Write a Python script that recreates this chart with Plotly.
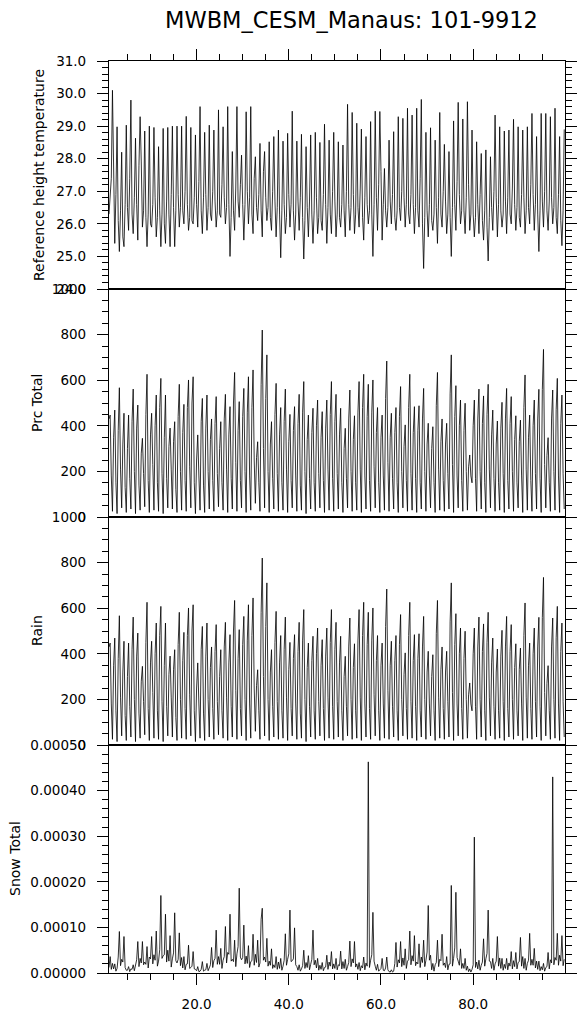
import plotly.graph_objects as go

# ---------------- data (quarterly samples) ----------------
years = list(range(1, 100))
sample_months = [0, 3, 6, 9]

temperature = [
    26.3, 26.9, 27.4, 30.1,   26.8, 25.4, 26.9, 28.98,  26.1, 25.15, 26.4, 28.2,   25.6, 25.3, 26.6, 29.03,
    26.5, 25.8, 27.4, 29.8,   26.3, 25.7, 26.8, 28.63,  26.6, 25.5, 27.8, 29.29,  27.9, 25.9, 26.4, 28.85,
    26.2, 25.3, 26.3, 29.0,   26.0, 25.9, 26.6, 28.96,  26.8, 25.6, 26.2, 28.37,  26.4, 25.3, 26.3, 28.93,
    26.0, 25.4, 26.7, 28.96,  26.3, 25.3, 26.9, 29.0,   26.5, 25.3, 26.4, 29.0,   26.9, 25.9, 26.5, 29.0,
    26.4, 26.0, 27.0, 29.3,   26.6, 25.8, 26.2, 28.96,  26.1, 26.0, 26.8, 28.73,  26.6, 25.9, 27.3, 29.6,
    26.4, 25.7, 26.8, 28.81,  26.9, 25.8, 26.5, 29.03,  26.3, 26.1, 27.0, 28.88,  26.7, 25.9, 26.4, 29.5,
    26.3, 26.2, 27.2, 28.98,  26.8, 26.0, 26.5, 29.6,   26.6, 25.0, 26.2, 28.22,  26.4, 25.8, 27.1, 29.6,
    26.7, 26.2, 27.2, 28.11,  26.6, 25.5, 26.6, 29.44,  27.0, 26.0, 26.8, 29.6,   26.3, 25.7, 27.4, 28.06,
    26.5, 26.1, 26.9, 28.47,  26.4, 25.6, 27.6, 28.22,  26.8, 26.1, 26.5, 28.52,  26.2, 25.8, 27.0, 28.68,
    26.7, 25.6, 26.5, 28.88,  26.3, 24.96, 26.4, 28.54, 26.6, 25.7, 26.2, 28.78,  26.9, 25.9, 26.6, 29.46,
    26.4, 25.5, 26.3, 28.54,  26.7, 25.8, 26.8, 28.75,  26.2, 24.92, 26.1, 28.37, 26.5, 25.6, 26.7, 28.73,
    26.3, 25.4, 26.4, 28.81,  26.8, 25.7, 26.2, 28.5,   26.1, 25.8, 26.9, 29.06,  26.6, 25.4, 26.5, 28.57,
    26.3, 25.7, 27.0, 28.81,  26.7, 25.6, 26.3, 28.52,  26.2, 25.9, 26.6, 28.42,  26.4, 25.6, 27.0, 29.67,
    26.6, 25.8, 26.5, 29.42,  26.9, 25.7, 26.3, 29.09,  26.5, 25.9, 27.1, 28.91,  26.2, 25.5, 26.8, 28.68,
    26.6, 26.0, 26.4, 29.14,  26.3, 25.0, 26.6, 29.46,  26.8, 25.8, 27.2, 29.45,  27.6, 25.5, 26.6, 27.7,
    26.4, 25.9, 26.5, 28.57,  26.7, 26.0, 26.9, 28.83,  26.2, 25.8, 26.4, 29.29,  26.5, 26.1, 27.0, 29.24,
    26.8, 25.9, 26.6, 29.55,  26.3, 26.0, 26.9, 29.34,  26.6, 25.7, 26.5, 29.55,  26.4, 25.9, 27.4, 29.82,
    26.0, 24.63, 26.2, 28.81, 26.4, 25.6, 26.6, 28.95,  26.1, 25.8, 26.3, 28.57,  26.5, 25.4, 26.8, 29.42,
    26.3, 25.9, 27.0, 28.44,  26.7, 25.7, 26.3, 28.22,  26.2, 25.0, 26.5, 29.16,  26.6, 25.8, 27.3, 29.73,
    26.9, 26.0, 26.4, 29.22,  26.4, 25.7, 26.8, 29.75,  27.2, 25.8, 26.3, 28.88,  26.3, 25.6, 26.2, 28.52,
    26.6, 25.7, 26.9, 28.16,  26.1, 25.5, 26.4, 28.27,  25.9, 24.86, 26.2, 28.06, 26.5, 25.8, 27.0, 29.34,
    26.8, 25.6, 26.6, 28.98,  26.4, 25.9, 26.3, 28.85,  26.7, 25.7, 26.8, 28.88,  26.3, 26.0, 27.1, 29.21,
    26.6, 25.8, 26.5, 28.98,  26.2, 25.9, 26.9, 28.88,  26.8, 25.7, 26.4, 28.98,  26.5, 26.0, 27.2, 29.39,
    26.9, 25.8, 26.6, 28.68,  26.3, 25.15, 26.4, 29.39, 26.7, 25.9, 27.0, 29.39,  26.4, 25.8, 26.7, 29.29,
    26.8, 26.0, 26.5, 29.55,  26.2, 25.7, 26.9, 28.68,  26.1, 25.33, 26.4, 28.9,
]

prc_total = [
    430, 447, 180, 25,  350, 469, 150, 15,  380, 567, 210, 40,  320, 455, 130, 20,
    300, 447, 170, 35,  420, 561, 200, 15,  390, 491, 140, 30,  280, 345, 190, 45,
    450, 626, 160, 20,  360, 455, 230, 30,  400, 535, 150, 25,  480, 608, 190, 15,
    350, 535, 170, 40,  310, 390, 210, 35,  330, 418, 120, 20,  440, 582, 200, 30,
    370, 494, 160, 25,  480, 601, 220, 40,  500, 615, 150, 15,  250, 360, 180, 30,
    420, 520, 140, 20,  390, 535, 200, 35,  340, 430, 160, 25,  410, 528, 190, 45,
    300, 418, 150, 30,  430, 538, 210, 20,  360, 484, 170, 35,  500, 634, 240, 25,
    380, 506, 160, 40,  440, 564, 200, 20,  460, 615, 180, 30,  480, 645, 250, 60,
    260, 330, 150, 25,  580, 820, 300, 40,  520, 711, 200, 20,  320, 418, 170, 35,
    450, 586, 190, 25,  360, 480, 150, 30,  420, 561, 210, 20,  330, 450, 160, 40,
    380, 484, 180, 25,  410, 538, 140, 30,  460, 594, 200, 15,  340, 447, 170, 35,
    370, 477, 150, 25,  400, 513, 190, 40,  350, 462, 160, 20,  390, 513, 210, 30,
    450, 594, 170, 25,  420, 538, 190, 35,  360, 477, 150, 20,  300, 389, 170, 40,
    430, 557, 200, 25,  340, 444, 150, 30,  460, 594, 210, 20,  480, 626, 180, 35,
    440, 582, 160, 25,  460, 601, 220, 40,  370, 480, 150, 20,  350, 447, 180, 30,
    520, 684, 240, 25,  350, 455, 170, 35,  370, 480, 150, 20,  440, 572, 200, 40,
    310, 404, 160, 25,  480, 626, 190, 30,  370, 484, 170, 20,  380, 488, 150, 35,
    430, 564, 200, 25,  320, 411, 180, 40,  300, 396, 150, 20,  490, 634, 210, 30,
    330, 430, 160, 25,  320, 411, 190, 35,  540, 711, 230, 20,  440, 576, 180, 40,
    400, 513, 160, 25,  380, 499, 200, 30,  220, 272, 180, 150, 400, 513, 170, 25,
    430, 561, 200, 35,  410, 531, 150, 20,  450, 582, 210, 40,  360, 469, 170, 25,
    320, 421, 150, 30,  390, 503, 190, 20,  430, 564, 160, 35,  410, 528, 200, 25,
    340, 444, 150, 40,  330, 425, 180, 20,  480, 623, 210, 30,  350, 447, 160, 25,
    400, 513, 190, 35,  430, 560, 170, 20,  560, 735, 230, 40,  270, 348, 150, 25,
    430, 557, 200, 30,  470, 608, 180, 20,  410, 535, 190, 35,
]

rain = [
    430, 447, 180, 25,  350, 469, 150, 15,  380, 567, 210, 40,  320, 455, 130, 20,
    300, 447, 170, 35,  420, 561, 200, 15,  390, 491, 140, 30,  280, 345, 190, 45,
    450, 626, 160, 20,  360, 455, 230, 30,  400, 535, 150, 25,  480, 608, 190, 15,
    350, 535, 170, 40,  310, 390, 210, 35,  330, 418, 120, 20,  440, 582, 200, 30,
    370, 494, 160, 25,  480, 601, 220, 40,  500, 615, 150, 15,  250, 360, 180, 30,
    420, 520, 140, 20,  390, 535, 200, 35,  340, 430, 160, 25,  410, 528, 190, 45,
    300, 418, 150, 30,  430, 538, 210, 20,  360, 484, 170, 35,  500, 634, 240, 25,
    380, 506, 160, 40,  440, 564, 200, 20,  460, 615, 180, 30,  480, 645, 250, 60,
    260, 330, 150, 25,  580, 820, 300, 40,  520, 711, 200, 20,  320, 418, 170, 35,
    450, 586, 190, 25,  360, 480, 150, 30,  420, 561, 210, 20,  330, 450, 160, 40,
    380, 484, 180, 25,  410, 538, 140, 30,  460, 594, 200, 15,  340, 447, 170, 35,
    370, 477, 150, 25,  400, 513, 190, 40,  350, 462, 160, 20,  390, 513, 210, 30,
    450, 594, 170, 25,  420, 538, 190, 35,  360, 477, 150, 20,  300, 389, 170, 40,
    430, 557, 200, 25,  340, 444, 150, 30,  460, 594, 210, 20,  480, 626, 180, 35,
    440, 582, 160, 25,  460, 601, 220, 40,  370, 480, 150, 20,  350, 447, 180, 30,
    520, 684, 240, 25,  350, 455, 170, 35,  370, 480, 150, 20,  440, 572, 200, 40,
    310, 404, 160, 25,  480, 626, 190, 30,  370, 484, 170, 20,  380, 488, 150, 35,
    430, 564, 200, 25,  320, 411, 180, 40,  300, 396, 150, 20,  490, 634, 210, 30,
    330, 430, 160, 25,  320, 411, 190, 35,  540, 711, 230, 20,  440, 576, 180, 40,
    400, 513, 160, 25,  380, 499, 200, 30,  220, 272, 180, 150, 400, 513, 170, 25,
    430, 561, 200, 35,  410, 531, 150, 20,  450, 582, 210, 40,  360, 469, 170, 25,
    320, 421, 150, 30,  390, 503, 190, 20,  430, 564, 160, 35,  410, 528, 200, 25,
    340, 444, 150, 40,  330, 425, 180, 20,  480, 623, 210, 30,  350, 447, 160, 25,
    400, 513, 190, 35,  430, 560, 170, 20,  560, 735, 230, 40,  270, 348, 150, 25,
    430, 557, 200, 30,  470, 608, 180, 20,  410, 535, 190, 35,
]

# snow total, in units of 1e-5
snow_total_e5 = [
    1.2, 3.6, 0.8, 2.1,   0.9, 2.0, 0.4, 1.0,   3.5, 9.1, 1.6, 3.0,   2.4, 8.0, 1.2, 0.6,
    0.6, 1.4, 0.3, 0.9,   0.8, 1.8, 0.5, 1.6,   2.9, 6.9, 1.4, 3.2,   2.2, 6.9, 1.8, 2.4,
    1.9, 5.8, 1.1, 3.5,   3.1, 8.0, 2.0, 4.0,   2.8, 9.2, 1.5, 2.6,   5.1, 17.0, 3.2, 3.8,
    4.0, 12.9, 2.4, 5.0,  2.6, 8.2, 1.3, 3.1,   4.4, 13.2, 2.7, 2.2,  3.0, 8.8, 1.6, 3.4,
    1.1, 3.6, 0.7, 1.9,   2.0, 6.1, 1.0, 1.2,   1.5, 4.7, 0.9, 0.8,   0.5, 1.4, 0.3, 0.4,
    0.8, 2.5, 0.4, 0.6,   0.7, 2.1, 0.5, 1.1,   1.8, 5.6, 1.2, 2.7,   3.2, 9.4, 1.9, 3.6,
    1.9, 5.4, 1.0, 2.8,   3.6, 10.2, 2.2, 4.5,  4.1, 12.9, 2.6, 3.0,  2.5, 7.2, 1.4, 4.2,
    5.8, 18.6, 3.5, 2.9,  3.4, 10.5, 2.0, 3.7,  2.1, 6.0, 1.2, 2.5,   2.7, 8.5, 1.7, 4.1,
    2.3, 7.2, 1.3, 2.2,   11.8, 14.2, 2.8, 3.5, 2.4, 7.6, 1.5, 2.6,   1.7, 5.3, 1.0, 1.8,
    1.2, 3.6, 0.8, 2.4,   1.0, 3.2, 0.6, 1.5,   2.8, 8.6, 1.7, 3.0,   4.2, 13.8, 2.5, 2.7,
    3.1, 9.9, 1.8, 1.4,   0.6, 1.8, 0.4, 0.9,   1.6, 5.0, 1.0, 2.3,   1.2, 3.8, 0.7, 1.9,
    3.0, 9.4, 1.8, 2.8,   1.1, 3.2, 0.6, 1.7,   0.8, 2.3, 0.5, 1.2,   1.3, 3.9, 0.8, 2.4,
    1.5, 4.7, 0.9, 2.0,   1.0, 3.2, 0.7, 1.8,   1.6, 4.8, 0.9, 2.5,   1.0, 3.0, 0.6, 1.4,
    2.3, 7.0, 1.4, 3.1,   2.2, 6.9, 1.3, 2.0,   0.8, 2.3, 0.5, 1.6,   1.1, 3.5, 0.7, 2.2,
    1.5, 46.3, 1.2, 2.8,  4.0, 13.3, 2.6, 1.5,  0.6, 1.9, 0.4, 0.7,   1.0, 3.2, 0.6, 0.5,
    1.1, 3.5, 0.7, 0.3,   0.2, 0.7, 0.2, 0.4,   2.1, 6.7, 1.3, 2.9,   2.2, 6.9, 1.4, 3.3,
    1.7, 5.3, 1.0, 2.6,   2.9, 9.2, 1.8, 3.8,   2.6, 8.2, 1.6, 2.4,   2.0, 6.4, 1.2, 3.5,
    2.3, 7.2, 1.4, 2.8,   4.6, 14.8, 2.8, 3.9,  0.7, 2.1, 0.4, 1.8,   2.3, 7.2, 1.4, 3.0,
    2.7, 8.5, 1.7, 2.2,   1.2, 3.6, 0.7, 1.9,   2.0, 19.2, 1.5, 3.2,  5.5, 17.7, 3.4, 2.6,
    1.7, 5.3, 1.0, 2.1,   1.0, 3.2, 0.6, 1.5,   0.3, 0.9, 0.2, 0.8,   1.8, 29.8, 1.2, 2.4,
    0.9, 2.8, 0.6, 1.7,   2.4, 7.5, 1.5, 3.1,   4.3, 13.8, 2.6, 2.5,  1.0, 3.2, 0.6, 2.0,
    2.6, 8.0, 1.5, 3.3,   1.0, 3.2, 0.6, 1.9,   1.0, 3.2, 0.7, 2.2,   1.5, 4.7, 0.9, 2.7,
    1.4, 4.5, 0.9, 2.3,   2.5, 7.8, 1.5, 3.6,   1.0, 3.2, 0.6, 2.1,   2.8, 8.7, 1.7, 3.0,
    1.7, 5.4, 1.1, 2.6,   0.8, 2.6, 0.5, 1.4,   0.7, 2.1, 0.4, 1.2,   1.4, 4.5, 0.9, 2.9,
    2.2, 43.0, 1.8, 3.4,  2.8, 8.7, 1.7, 3.9,   2.6, 8.2, 1.6, 3.0,
]
SNOW_UNIT = 1e-5

title_text = "MWBM_CESM_Manaus: 101-9912"
panel_titles = ["Reference height temperature", "Prc Total", "Rain", "Snow Total"]
x_tick_labels = ["20.0", "40.0", "60.0", "80.0"]

# ---------------- build ----------------
time = [y + m / 12.0 for y in years for m in sample_months]
snow_total = [v * SNOW_UNIT for v in snow_total_e5]

FONT = "DejaVu Sans"
TICK_FONT = dict(family=FONT, size=13.5, color="black")
LINE = dict(color="black", width=0.8)

# The page puts the plot 8 px in from the top-left corner, so the figure is
# sized 578x1008 and the plot area sits at page x 109..565, y 61..973.
FIG_W, FIG_H = 578, 1008
M_L, M_R, M_T, M_B = 101, 21, 53, 43
PLOT_W = FIG_W - M_L - M_R
PLOT_H = FIG_H - M_T - M_B
PAGE_LEFT = 109  # page x of the plot's left edge

fig = go.Figure()
series = [temperature, prc_total, rain, snow_total]
# panel order top->bottom uses axes 4,3,2,1 (axis 1 is the bottom panel)
axis_ids = ["4", "3", "2", ""]
for vals, aid in zip(series, axis_ids):
    fig.add_trace(go.Scatter(x=time, y=vals, mode="lines", line=LINE,
                             xaxis="x" + aid, yaxis="y" + aid,
                             showlegend=False, hoverinfo="skip"))

x_range = [1.0, 99.917]
domains = {"": [0.0, 0.25], "2": [0.25, 0.5], "3": [0.5, 0.75], "4": [0.75, 1.0]}
minor_x = [5, 10, 15, 25, 30, 35, 45, 50, 55, 65, 70, 75, 85, 90, 95]

def xaxis(aid, mode):
    d = dict(range=x_range, showgrid=False, zeroline=False, showline=True,
             linecolor="black", linewidth=1.2, mirror=True,
             anchor="y" + aid, fixedrange=True)
    if mode in ("bottom", "top"):
        d.update(side=mode, ticks="outside", ticklen=11, tickwidth=1.2, tickcolor="black",
                 tickmode="array", tickvals=[20, 40, 60, 80], ticktext=x_tick_labels,
                 tickfont=TICK_FONT, ticklabelstandoff=8,
                 showticklabels=(mode == "bottom"),
                 minor=dict(ticks="outside", tickmode="array", tickvals=minor_x,
                            ticklen=6, tickwidth=1, tickcolor="black"))
    else:
        d.update(ticks="", showticklabels=False)
    return d

def yaxis(aid, rng, dtick, minor_dtick, fmt):
    return dict(domain=domains[aid], range=rng, anchor="x" + aid,
                showgrid=False, zeroline=False, showline=True, linecolor="black",
                linewidth=1.2, mirror="ticks", ticks="outside", ticklen=11,
                tickwidth=1.2, tickcolor="black", tick0=rng[0], dtick=dtick,
                tickformat=fmt, tickfont=TICK_FONT, ticklabelstandoff=8,
                fixedrange=True,
                minor=dict(ticks="outside", dtick=minor_dtick, tick0=rng[0],
                           ticklen=6, tickwidth=1, tickcolor="black"))

fig.update_layout(
    width=FIG_W, height=FIG_H,
    margin=dict(l=M_L, r=M_R, t=M_T, b=M_B, autoexpand=False),
    paper_bgcolor="white", plot_bgcolor="white",
    font=dict(family=FONT, color="black"),
    xaxis=xaxis("", "bottom"),
    xaxis2=xaxis("2", "none"),
    xaxis3=xaxis("3", "none"),
    xaxis4=xaxis("4", "top"),
    yaxis=yaxis("", [0, 0.0005], 0.0001, 0.00002, ".5f"),
    yaxis2=yaxis("2", [0, 1000], 200, 50, "d"),
    yaxis3=yaxis("3", [0, 1000], 200, 50, "d"),
    yaxis4=yaxis("4", [24, 31], 1, 0.2, ".1f"),
)

title_x_px = [39, 37, 37, 15]
for name, aid, xp in zip(panel_titles, axis_ids, title_x_px):
    d0, d1 = domains[aid]
    fig.add_annotation(text=name, xref="paper", yref="paper",
                       x=(xp - PAGE_LEFT) / PLOT_W, y=(d0 + d1) / 2,
                       xanchor="center", yanchor="middle", textangle=-90,
                       showarrow=False, font=dict(family=FONT, size=14, color="black"))

fig.add_annotation(text=title_text, xref="paper", yref="paper",
                   x=(351 - PAGE_LEFT) / PLOT_W, y=1 + (61 - 20) / PLOT_H,
                   xanchor="center", yanchor="middle", showarrow=False,
                   font=dict(family=FONT, size=22.5, color="black"))

fig.write_html("out.html")
